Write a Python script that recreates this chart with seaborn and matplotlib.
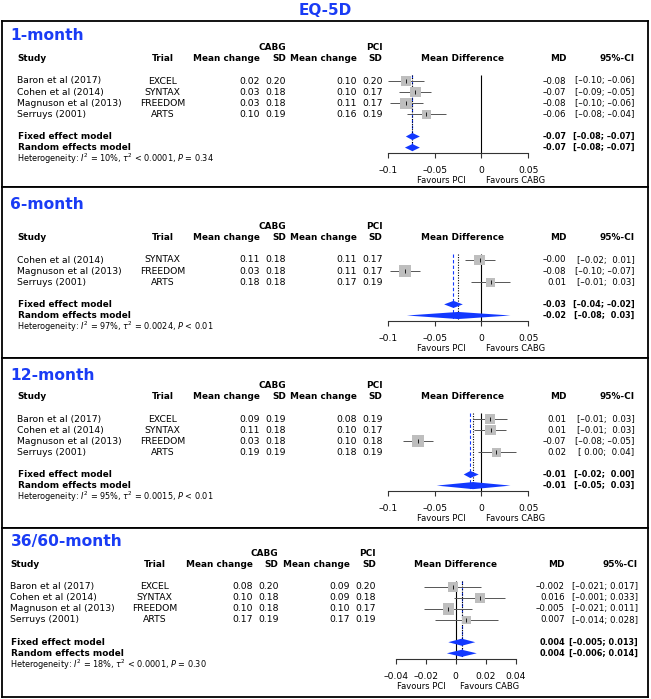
import numpy as np
import pandas as pd
import matplotlib.pyplot as plt
import seaborn as sns

# ---- data ----
studies = ['Baron et al (2017)', 'Cohen et al (2014)', 'Magnuson et al (2013)', 'Serruys (2001)']
trials = ['EXCEL', 'SYNTAX', 'FREEDOM', 'ARTS']

# 1-month
m1_cabg_mean = [0.02, 0.03, 0.03, 0.10]
m1_cabg_sd = [0.20, 0.18, 0.18, 0.19]
m1_pci_mean = [0.10, 0.10, 0.11, 0.16]
m1_pci_sd = [0.20, 0.17, 0.17, 0.19]
m1_est = [-0.081, -0.071, -0.081, -0.059]
m1_lo = [-0.100, -0.088, -0.098, -0.080]
m1_hi = [-0.062, -0.054, -0.063, -0.038]
m1_weight = [20, 25, 28, 17]
m1_md_txt = ['–0.08', '–0.07', '–0.08', '–0.06']
m1_ci_txt = ['[–0.10; –0.06]', '[–0.09; –0.05]', '[–0.10; –0.06]', '[–0.08; –0.04]']
m1_pool_est = [-0.074, -0.074]
m1_pool_lo = [-0.081, -0.082]
m1_pool_hi = [-0.066, -0.066]
m1_pool_md_txt = ['–0.07', '–0.07']
m1_pool_ci_txt = ['[–0.08; –0.07]', '[–0.08; –0.07]']
m1_het = ['10%', '< 0.0001', '= 0.34']

# 6-month (no EXCEL)
m6_cabg_mean = [0.11, 0.03, 0.18]
m6_cabg_sd = [0.18, 0.18, 0.18]
m6_pci_mean = [0.11, 0.11, 0.17]
m6_pci_sd = [0.17, 0.17, 0.19]
m6_est = [-0.002, -0.082, 0.010]
m6_lo = [-0.018, -0.098, -0.011]
m6_hi = [0.014, -0.066, 0.031]
m6_weight = [25, 29, 17]
m6_md_txt = ['–0.00', '–0.08', '0.01']
m6_ci_txt = ['[–0.02;  0.01]', '[–0.10; –0.07]', '[–0.01;  0.03]']
m6_pool_est = [-0.030, -0.025]
m6_pool_lo = [-0.040, -0.080]
m6_pool_hi = [-0.020, 0.031]
m6_pool_md_txt = ['–0.03', '–0.02']
m6_pool_ci_txt = ['[–0.04; –0.02]', '[–0.08;  0.03]']
m6_het = ['97%', '= 0.0024', '< 0.01']

# 12-month
m12_cabg_mean = [0.09, 0.11, 0.03, 0.19]
m12_cabg_sd = [0.19, 0.18, 0.18, 0.19]
m12_pci_mean = [0.08, 0.10, 0.10, 0.18]
m12_pci_sd = [0.19, 0.17, 0.18, 0.19]
m12_est = [0.009, 0.010, -0.068, 0.016]
m12_lo = [-0.009, -0.008, -0.084, -0.004]
m12_hi = [0.027, 0.026, -0.052, 0.037]
m12_weight = [25, 25, 30, 17]
m12_md_txt = ['0.01', '0.01', '–0.07', '0.02']
m12_ci_txt = ['[–0.01;  0.03]', '[–0.01;  0.03]', '[–0.08; –0.05]', '[ 0.00;  0.04]']
m12_pool_est = [-0.012, -0.009]
m12_pool_lo = [-0.019, -0.048]
m12_pool_hi = [-0.003, 0.031]
m12_pool_md_txt = ['–0.01', '–0.01']
m12_pool_ci_txt = ['[–0.02;  0.00]', '[–0.05;  0.03]']
m12_het = ['95%', '= 0.0015', '< 0.01']

# 36/60-month
m36_cabg_mean = [0.08, 0.10, 0.10, 0.17]
m36_cabg_sd = [0.20, 0.18, 0.18, 0.19]
m36_pci_mean = [0.09, 0.09, 0.10, 0.17]
m36_pci_sd = [0.20, 0.18, 0.17, 0.19]
m36_est = [-0.002, 0.016, -0.005, 0.007]
m36_lo = [-0.021, -0.001, -0.021, -0.014]
m36_hi = [0.017, 0.033, 0.011, 0.028]
m36_weight = [20, 22, 29, 17]
m36_md_txt = ['–0.002', '0.016', '–0.005', '0.007']
m36_ci_txt = ['[–0.021; 0.017]', '[–0.001; 0.033]', '[–0.021; 0.011]', '[–0.014; 0.028]']
m36_pool_est = [0.004, 0.004]
m36_pool_lo = [-0.005, -0.006]
m36_pool_hi = [0.013, 0.014]
m36_pool_md_txt = ['0.004', '0.004']
m36_pool_ci_txt = ['[–0.005; 0.013]', '[–0.006; 0.014]']
m36_het = ['18%', '< 0.0001', '= 0.30']

ticks_a = [-0.1, -0.05, 0, 0.05]
ticklabels_a = ['–0.1', '–0.05', '0', '0.05']
ticks_b = [-0.04, -0.02, 0, 0.02, 0.04]
ticklabels_b = ['–0.04', '–0.02', '0', '0.02', '0.04']

# ---- styling / layout ----
sns.set_theme(style='white', rc={'text.color': 'black', 'xtick.color': 'black',
                                 'axes.edgecolor': 'black'})
plt.rcParams['font.family'] = ['DejaVu Sans']
plt.rcParams['mathtext.fontset'] = 'dejavusans'

W, H = 651, 699
ROW = 11.1          # px per table row
X0, X1 = 2, 648     # panel box left / right in px
BLUE = '#1238ff'
TITLE_BLUE = '#1a3cf5'
GREY = '#bebebe'
FS = 6.7            # body text
FS_B = 6.4          # bold text
FS_NUM = 6.2        # MD / CI columns
FS_NUM_B = 5.9

layout_a = dict(study=17, trial=162.5, cabg_mean=259.7, cabg_sd=285.8, pci_mean=357.3,
                pci_sd=382.6, md_head=463, md=566.3, ci=634.4, zero=481.5, ppu=934,
                ticks=ticks_a, labels=ticklabels_a, fav_left=-16, fav_right=5)
layout_b = dict(study=10.4, trial=154.8, cabg_mean=253, cabg_sd=278.4, pci_mean=350,
                pci_sd=376, md_head=456, md=565, ci=638, zero=455.8, ppu=1495,
                ticks=ticks_b, labels=ticklabels_b, fav_left=-10, fav_right=4)

panels = [
    dict(title='1-month', study=studies, trial=trials, cabg_mean=m1_cabg_mean, cabg_sd=m1_cabg_sd,
         pci_mean=m1_pci_mean, pci_sd=m1_pci_sd, est=m1_est, lo=m1_lo, hi=m1_hi, weight=m1_weight,
         md_txt=m1_md_txt, ci_txt=m1_ci_txt, pool_est=m1_pool_est, pool_lo=m1_pool_lo,
         pool_hi=m1_pool_hi, pool_md_txt=m1_pool_md_txt, pool_ci_txt=m1_pool_ci_txt, het=m1_het,
         top=21, bottom=187, row0=81, title_row=-4.1, lay=layout_a),
    dict(title='6-month', study=studies[1:], trial=trials[1:], cabg_mean=m6_cabg_mean,
         cabg_sd=m6_cabg_sd, pci_mean=m6_pci_mean, pci_sd=m6_pci_sd, est=m6_est, lo=m6_lo,
         hi=m6_hi, weight=m6_weight, md_txt=m6_md_txt, ci_txt=m6_ci_txt, pool_est=m6_pool_est,
         pool_lo=m6_pool_lo, pool_hi=m6_pool_hi, pool_md_txt=m6_pool_md_txt,
         pool_ci_txt=m6_pool_ci_txt, het=m6_het,
         top=187, bottom=358, row0=260, title_row=-5.0, lay=layout_a),
    dict(title='12-month', study=studies, trial=trials, cabg_mean=m12_cabg_mean,
         cabg_sd=m12_cabg_sd, pci_mean=m12_pci_mean, pci_sd=m12_pci_sd, est=m12_est, lo=m12_lo,
         hi=m12_hi, weight=m12_weight, md_txt=m12_md_txt, ci_txt=m12_ci_txt,
         pool_est=m12_pool_est, pool_lo=m12_pool_lo, pool_hi=m12_pool_hi,
         pool_md_txt=m12_pool_md_txt, pool_ci_txt=m12_pool_ci_txt, het=m12_het,
         top=358, bottom=528, row0=419, title_row=-3.96, lay=layout_a),
    dict(title='36/60-month', study=studies, trial=trials, cabg_mean=m36_cabg_mean,
         cabg_sd=m36_cabg_sd, pci_mean=m36_pci_mean, pci_sd=m36_pci_sd, est=m36_est, lo=m36_lo,
         hi=m36_hi, weight=m36_weight, md_txt=m36_md_txt, ci_txt=m36_ci_txt,
         pool_est=m36_pool_est, pool_lo=m36_pool_lo, pool_hi=m36_pool_hi,
         pool_md_txt=m36_pool_md_txt, pool_ci_txt=m36_pool_ci_txt, het=m36_het,
         top=528, bottom=697, row0=586.7, title_row=-4.05, lay=layout_b),
]

fig = plt.figure(figsize=(W / 100, H / 100), dpi=100)
fig.text(0.5, 1 - 10.5 / H, 'EQ-5D', ha='center', va='center', fontsize=11,
         fontweight='bold', color=TITLE_BLUE)


def draw_panel(p):
    L = p['lay']
    n = len(p['study'])
    row_top = (p['top'] - p['row0']) / ROW
    row_bot = (p['bottom'] - p['row0']) / ROW
    rect = [X0 / W, 1 - p['bottom'] / H, (X1 - X0) / W, (p['bottom'] - p['top']) / H]

    # text table, x in pixels, y in rows
    tax = fig.add_axes(rect)
    tax.set_xlim(X0, X1)
    tax.set_ylim(row_bot, row_top)
    tax.set_xticks([])
    tax.set_yticks([])
    for s in tax.spines.values():
        s.set_visible(True)
        s.set_color('black')
        s.set_linewidth(1.3)

    tax.text(10.5, p['title_row'], p['title'], ha='left', va='center', fontsize=11.2,
             fontweight='bold', color=TITLE_BLUE)
    bold = dict(fontsize=FS_B, fontweight='bold', va='center')
    tax.text(L['cabg_sd'], -3, 'CABG', ha='right', **bold)
    tax.text(L['pci_sd'], -3, 'PCI', ha='right', **bold)
    tax.text(L['study'], -2, 'Study', ha='left', **bold)
    tax.text(L['trial'], -2, 'Trial', ha='center', **bold)
    tax.text(L['cabg_mean'], -2, 'Mean change', ha='right', **bold)
    tax.text(L['cabg_sd'], -2, 'SD', ha='right', **bold)
    tax.text(L['pci_mean'], -2, 'Mean change', ha='right', **bold)
    tax.text(L['pci_sd'], -2, 'SD', ha='right', **bold)
    tax.text(L['md_head'], -2, 'Mean Difference', ha='center', **bold)
    tax.text(L['md'], -2, 'MD', ha='right', **bold)
    tax.text(L['ci'], -2, '95%-CI', ha='right', **bold)

    body = dict(fontsize=FS, va='center')
    num = dict(fontsize=FS_NUM, va='center', ha='right')
    for i in range(n):
        tax.text(L['study'], i, p['study'][i], ha='left', **body)
        tax.text(L['trial'], i, p['trial'][i], ha='center', **body)
        tax.text(L['cabg_mean'], i, f"{p['cabg_mean'][i]:.2f}", ha='right', **body)
        tax.text(L['cabg_sd'], i, f"{p['cabg_sd'][i]:.2f}", ha='right', **body)
        tax.text(L['pci_mean'], i, f"{p['pci_mean'][i]:.2f}", ha='right', **body)
        tax.text(L['pci_sd'], i, f"{p['pci_sd'][i]:.2f}", ha='right', **body)
        tax.text(L['md'], i, p['md_txt'][i], **num)
        tax.text(L['ci'], i, p['ci_txt'][i], **num)

    num_b = dict(fontsize=FS_NUM_B, fontweight='bold', va='center', ha='right')
    for k, lab in enumerate(['Fixed effect model', 'Random effects model']):
        r = n + 1 + k
        tax.text(L['study'] + 1, r, lab, ha='left', **bold)
        tax.text(L['md'], r, p['pool_md_txt'][k], **num_b)
        tax.text(L['ci'], r, p['pool_ci_txt'][k], **num_b)
    i2, tau, pv = p['het']
    tax.text(L['study'], n + 3,
             rf'Heterogeneity: $I^2$ = {i2}, $\tau^2$ {tau}, $P$ {pv}',
             ha='left', va='center', fontsize=5.9)

    # forest part, x in mean difference, same rows
    fax = fig.add_axes(rect)
    fax.patch.set_alpha(0)
    fax.set_xlim((X0 - L['zero']) / L['ppu'], (X1 - L['zero']) / L['ppu'])
    fax.set_ylim(row_bot, row_top)
    for side in ['left', 'right', 'top']:
        fax.spines[side].set_visible(False)
    axis_row = n + 2.5
    fax.spines['bottom'].set_position(('data', axis_row))
    fax.spines['bottom'].set_bounds(L['ticks'][0], L['ticks'][-1])
    fax.spines['bottom'].set_linewidth(0.8)
    fax.spines['bottom'].set_color('#333333')
    fax.set_yticks([])
    fax.set_xticks(L['ticks'])
    fax.set_xticklabels(L['labels'])
    fax.tick_params(axis='x', bottom=True, direction='out', length=3.4, width=0.8,
                    color='#333333', pad=6, labelsize=6.6)

    df = pd.DataFrame({'row': np.arange(n), 'est': p['est'], 'lo': p['lo'], 'hi': p['hi'],
                       'weight': p['weight']})
    df['area'] = (2.15 * np.sqrt(df['weight']) * 0.72) ** 2

    fax.vlines(0, -0.55, axis_row, colors='black', lw=0.8, zorder=1)
    fax.vlines(p['pool_est'][0], -0.5, n + 2.35, colors=BLUE, lw=0.8,
               linestyles=(0, (3, 2)), zorder=1)
    fax.vlines(p['pool_est'][1], -0.5, n + 2.35, colors='black', lw=0.8,
               linestyles=(0, (1, 1.3)), zorder=1)

    fax.hlines(df['row'], df['lo'], df['hi'], colors='#555555', lw=0.7, zorder=2)
    sns.scatterplot(data=df, x='est', y='row', marker='s', s=df['area'], color=GREY,
                    linewidth=0, legend=False, ax=fax, zorder=3)
    fax.scatter(df['est'], df['row'], marker='|', s=5, color='black', linewidths=0.6, zorder=4)

    h = 0.32
    for k in range(2):
        r = n + 1 + k
        e, lo, hi = p['pool_est'][k], p['pool_lo'][k], p['pool_hi'][k]
        fax.fill([lo, e, hi, e], [r, r - h, r, r + h], color=BLUE, lw=0, zorder=3)

    fax.set_xlabel('')
    fax.set_ylabel('')

    # favour labels sit either side of the zero line
    tax.text(L['zero'] + L['fav_left'], n + 5, 'Favours PCI', ha='right', va='center',
             fontsize=6.0)
    tax.text(L['zero'] + L['fav_right'], n + 5, 'Favours CABG', ha='left', va='center',
             fontsize=6.0)


for p in panels:
    draw_panel(p)

fig.savefig('out.png', dpi=100)
